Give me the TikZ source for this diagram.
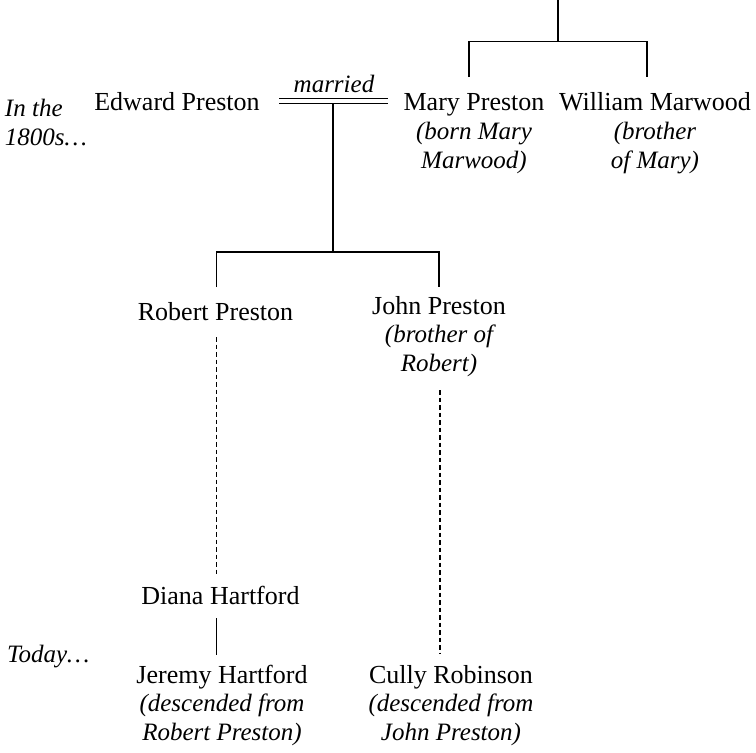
\documentclass[tikz,border=0pt]{standalone}
\usepackage{fontspec}
\setmainfont{Liberation Serif}
\newcommand{\itl}[1]{{\fontsize{25}{28.7}\selectfont\itshape #1}}
\newcommand{\stk}[1]{\vtop{\halign{\hfil##\hfil\cr #1\crcr}}}
\begin{document}
\begin{tikzpicture}[x=1pt,y=-1pt,
  lbl/.style={inner sep=0pt,outer sep=0pt,anchor=base,font=\fontsize{26}{28.7}\selectfont},
  side/.style={inner sep=0pt,outer sep=0pt,anchor=base west,font=\fontsize{25}{28.7}\selectfont\itshape},
  ln/.style={line width=1.3pt},
  dl/.style={line width=1.2pt,dash pattern=on 4.5pt off 3pt}]
\useasboundingbox (0,0) rectangle (756,753);

% text nodes
\node[side] (inthe) at (5,116.7) {\vtop{\halign{#\hfil\cr In the\cr 1800s…\cr}}};
\node[side] (today) at (7,662) {Today…};
\node[lbl] (edward) at (177,110.7) {Edward Preston};
\node[lbl,font=\fontsize{25}{28.7}\selectfont\itshape] (married) at (334,92) {married};
\node[lbl] (mary) at (474,110.7) {\stk{Mary Preston\cr\itl{(born Mary}\cr\itl{Marwood)}}};
\node[lbl] (william) at (655,110.7) {\stk{William Marwood\cr\itl{(brother}\cr\itl{of Mary)}}};
\node[lbl] (robert) at (215.5,320) {Robert Preston};
\node[lbl] (john) at (439,314) {\stk{John Preston\cr\itl{(brother of}\cr\itl{Robert)}}};
\node[lbl] (diana) at (220.5,604) {Diana Hartford};
\node[lbl] (jeremy) at (222,683) {\stk{Jeremy Hartford\cr\itl{(descended from}\cr\itl{Robert Preston)}}};
\node[lbl] (cully) at (451,683) {\stk{Cully Robinson\cr\itl{(descended from}\cr\itl{John Preston)}}};

% connector points
\coordinate (ptop) at (558,0);
\coordinate (pbar) at (558,41.7);
\coordinate (pmary) at (469,77);
\coordinate (pwill) at (647,77);
\coordinate (mL1) at (279,98.5);
\coordinate (mR1) at (388,98.5);
\coordinate (mL2) at (279,103.5);
\coordinate (mR2) at (388,103.5);
\coordinate (mmid) at (333,103.5);
\coordinate (kbar) at (333,252);
\coordinate (krob) at (216.7,287);
\coordinate (kjohn) at (439,287);
\coordinate (rd1) at (216.7,337);
\coordinate (rd2) at (216.7,577);
\coordinate (jd1) at (440,390);
\coordinate (jd2) at (440,653);
\coordinate (ds1) at (216.7,618);
\coordinate (ds2) at (216.7,655);

% parents of Mary and William
\draw[ln] (ptop) -- (pbar);
\draw[ln] (pmary) |- (pbar) -| (pwill);
% marriage
\draw[ln] (mL1) -- (mR1);
\draw[ln] (mL2) -- (mR2);
\draw[ln] (mmid) -- (kbar);
\draw[ln] (krob) |- (kbar) -| (kjohn);
% descent
\draw[dl] (rd1) -- (rd2);
\draw[dl] (jd1) -- (jd2);
\draw[ln] (ds1) -- (ds2);
\end{tikzpicture}
\end{document}
